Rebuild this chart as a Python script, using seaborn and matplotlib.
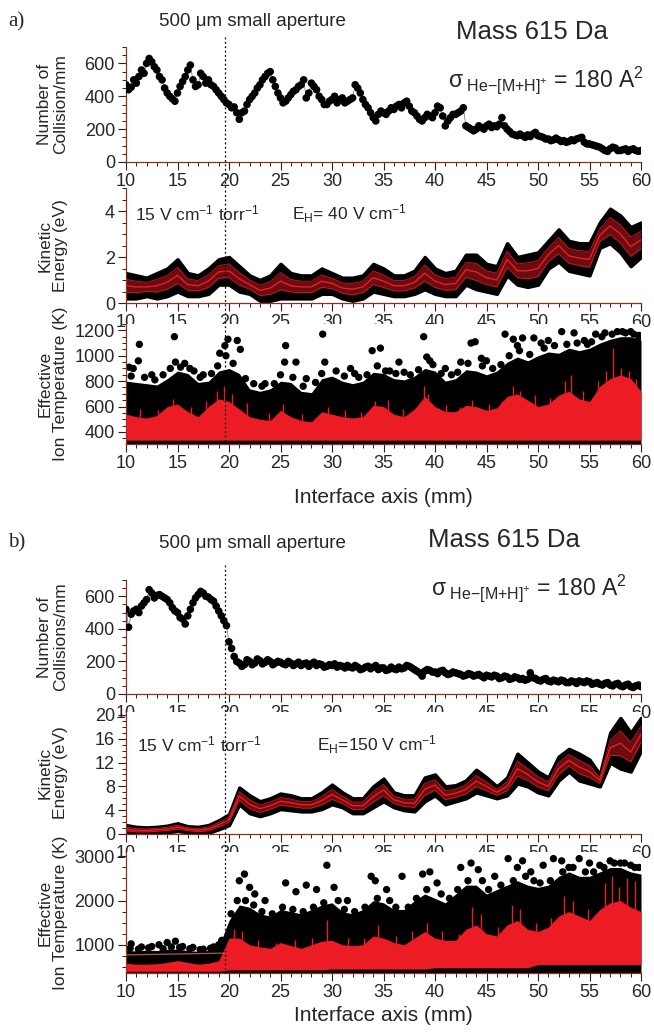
import numpy as np
import pandas as pd
import matplotlib
matplotlib.use('Agg')
import matplotlib.pyplot as plt
import seaborn as sns
from matplotlib.ticker import MultipleLocator
from matplotlib import transforms
from matplotlib.lines import Line2D

# ---------------- data ----------------
aperture_x = 19.6

# collisions per mm: points on the half-mm grid and the points between them
coll_x = np.arange(10, 60.01, 0.5)
coll_xq = np.arange(10.25, 60, 0.5)
coll_a = [470, 455, 480, 560, 600, 610, 560, 500, 420, 385,
          420, 490, 560, 500, 470, 520, 500, 460, 420, 380,
          350, 335, 260, 310, 380, 420, 470, 520, 550, 460,
          390, 370, 410, 440, 470, 390, 480, 440, 380, 350,
          380, 360, 390, 370, 390, 450, 380, 330, 270, 290,
          300, 310, 320, 350, 360, 340, 300, 260, 270, 280,
          300, 330, 220, 270, 290, 310, 220, 200, 200, 210,
          220, 210, 215, 270, 200, 170, 160, 160, 165, 170,
          160, 150, 140, 135, 135, 130, 125, 130, 145, 120,
          110, 100, 90, 70, 80, 85, 70, 80, 75, 70,
          70]
coll_a_q = [440, 500, 520, 540, 630, 580, 520, 450, 400, 370,
            460, 520, 590, 460, 540, 480, 470, 440, 400, 360,
            330, 300, 300, 350, 400, 450, 500, 540, 500, 420,
            360, 390, 430, 460, 500, 420, 460, 400, 350, 370,
            400, 380, 360, 380, 470, 420, 350, 300, 250, 310,
            290, 330, 340, 330, 370, 310, 280, 250, 290, 270,
            340, 280, 250, 290, 300, 330, 210, 190, 220, 200,
            230, 220, 230, 220, 185, 165, 170, 150, 155, 180,
            155, 140, 130, 145, 125, 120, 135, 140, 150, 110,
            105, 95, 80, 65, 90, 70, 75, 65, 80, 65]
coll_b = [520, 490, 520, 540, 580, 620, 605, 600, 580, 530,
          500, 460, 480, 560, 610, 620, 595, 570, 510, 450,
          320, 230, 190, 180, 200, 190, 205, 195, 200, 190,
          195, 180, 190, 185, 175, 190, 185, 175, 180, 170,
          175, 165, 170, 175, 160, 165, 155, 170, 165, 150,
          160, 150, 155, 165, 160, 170, 150, 130, 140, 145,
          135, 140, 130, 125, 130, 120, 115, 120, 115, 110,
          115, 105, 110, 100, 105, 95, 100, 95, 90, 100,
          85, 90, 80, 85, 75, 80, 70, 75, 80, 70,
          75, 65, 60, 65, 55, 60, 50, 55, 45, 50,
          45]
coll_b_q = [410, 510, 500, 560, 640, 590, 610, 590, 560, 510,
            470, 430, 520, 590, 630, 600, 580, 540, 480, 420,
            280, 200, 170, 210, 180, 215, 185, 210, 180, 200,
            185, 200, 175, 195, 185, 170, 195, 185, 165, 180,
            185, 175, 160, 165, 175, 150, 165, 155, 175, 160,
            145, 165, 150, 155, 175, 160, 140, 110, 150, 135,
            125, 145, 120, 135, 125, 110, 125, 110, 120, 100,
            110, 115, 95, 110, 90, 105, 90, 85, 130, 95,
            80, 95, 75, 80, 85, 70, 80, 65, 75, 80,
            60, 70, 55, 70, 50, 65, 45, 60, 40, 55]

# kinetic energy band (eV), every 1 mm
mm_x = np.arange(10, 61, 1)
ke_a_hi = [1.3, 1.2, 1.1, 1.3, 1.5, 1.9, 1.3, 1.2, 1.5, 1.9, 2.0, 1.6, 1.2, 1.0, 1.2,
           1.7, 1.3, 1.2, 1.2, 1.5, 1.3, 1.1, 1.1, 1.2, 1.7, 1.5, 1.2, 1.2, 1.4, 2.0,
           1.5, 1.3, 1.4, 2.1, 2.1, 1.7, 1.6, 2.6, 2.0, 2.1, 2.2, 2.7, 3.2, 2.7, 2.6,
           2.6, 3.5, 4.1, 3.8, 3.3, 3.5]
ke_a_lo = [0.2, 0.2, 0.3, 0.2, 0.3, 0.5, 0.3, 0.3, 0.4, 0.8, 0.8, 0.5, 0.4, 0.1, 0.1,
           0.2, 0.2, 0.2, 0.2, 0.4, 0.4, 0.2, 0.1, 0.2, 0.5, 0.4, 0.3, 0.3, 0.4, 0.6,
           0.4, 0.3, 0.3, 0.8, 0.6, 0.5, 0.4, 1.2, 0.8, 0.7, 0.8, 1.5, 1.8, 1.4, 1.3,
           1.2, 2.4, 2.6, 2.2, 1.6, 2.0]
ke_a_mid = [0.75, 0.7, 0.7, 0.75, 0.9, 1.2, 0.8, 0.75, 0.95, 1.35, 1.4, 1.05, 0.8, 0.55, 0.65,
            0.95, 0.75, 0.7, 0.7, 0.95, 0.85, 0.65, 0.6, 0.7, 1.1, 0.95, 0.75, 0.75, 0.9, 1.3,
            0.95, 0.8, 0.85, 1.45, 1.35, 1.1, 1.0, 1.9, 1.4, 1.4, 1.5, 2.1, 2.5, 2.05, 1.95,
            1.9, 2.95, 3.35, 3.0, 2.45, 2.75]
ke_b_hi = [1.5, 1.2, 1.1, 1.2, 1.4, 1.8, 1.3, 1.2, 1.5, 2.3, 3.3, 7.8, 6.5, 5.5, 6.0,
           6.8, 6.5, 6.0, 6.0, 7.0, 8.3, 7.0, 6.0, 6.0, 8.0, 9.3, 7.0, 6.5, 6.5, 9.5,
           10.0, 8.0, 8.2, 9.0, 10.8, 9.5, 8.0, 9.5, 13.5, 12.0, 10.5, 9.5, 13.0, 14.3, 13.5,
           12.5, 10.0, 17.0, 19.5, 17.0, 19.5]
ke_b_lo = [0.2, 0.1, 0.1, 0.2, 0.3, 0.5, 0.3, 0.1, 0.2, 0.8, 1.5, 5.0, 3.5, 3.0, 3.5,
           4.2, 4.0, 3.8, 3.8, 4.2, 5.0, 4.5, 3.5, 3.5, 4.5, 5.5, 4.5, 4.0, 3.8, 5.5,
           6.5, 5.0, 5.5, 6.0, 7.0, 6.5, 6.0, 6.5, 8.5, 8.0, 7.0, 6.5, 9.0, 10.5, 9.0,
           8.5, 8.0, 12.0, 11.0, 10.5, 14.0]
ke_b_mid = [0.8, 0.6, 0.6, 0.7, 0.85, 1.15, 0.8, 0.65, 0.85, 1.55, 2.4, 6.4, 5.0, 4.25, 4.75,
            5.5, 5.25, 4.9, 4.9, 5.6, 6.65, 5.75, 4.75, 4.75, 6.25, 7.4, 5.75, 5.25, 5.15, 7.5,
            8.25, 6.5, 6.85, 7.5, 8.9, 8.0, 7.0, 8.0, 11.0, 10.0, 8.75, 8.0, 11.0, 12.4, 11.25,
            10.5, 9.0, 14.5, 15.25, 13.75, 16.75]

# effective ion temperature (K), every 1 mm: top of the dense black cloud, red band
temp_a_black = [800, 790, 780, 770, 820, 880, 860, 790, 800, 880, 900, 860, 740, 720, 740,
                800, 790, 720, 710, 820, 840, 800, 780, 800, 870, 860, 820, 810, 840, 900,
                880, 800, 820, 890, 880, 850, 880, 950, 990, 960, 1000, 1030, 1020, 1060, 1040,
                1060, 1100, 1130, 1150, 1150, 1120]
temp_a_red = [540, 520, 510, 530, 600, 620, 560, 520, 600, 660, 640, 580, 520, 500, 490,
              570, 520, 490, 480, 560, 540, 520, 510, 520, 610, 600, 540, 520, 580, 680,
              600, 560, 560, 610, 600, 570, 590, 680, 700, 650, 600, 620, 690, 720, 660,
              640, 760, 820, 850, 820, 720]
temp_a_red_low = 335
temp_b_black = [870, 860, 880, 870, 900, 900, 870, 850, 870, 950, 1550, 1900, 1850, 1700, 1650,
                1800, 1750, 1700, 1800, 1900, 1950, 1750, 1700, 1800, 2000, 1950, 1800, 1800, 2000, 2150,
                2050, 1950, 2150, 2350, 2350, 2150, 2250, 2350, 2450, 2350, 2300, 2350, 2550, 2650, 2550,
                2550, 2650, 2750, 2750, 2650, 2600]
temp_b_red = [580, 560, 560, 570, 600, 640, 600, 560, 580, 640, 1150, 1150, 1000, 950, 920,
              1050, 980, 920, 1000, 1080, 1100, 1000, 980, 1000, 1200, 1150, 1050, 1000, 1150, 1300,
              1150, 1100, 1100, 1350, 1450, 1250, 1200, 1450, 1550, 1350, 1300, 1400, 1650, 1750, 1650,
              1550, 1800, 1950, 2000, 1850, 1750]
temp_b_red_low = [400, 400, 400, 400, 400, 400, 400, 400, 400, 400,
                  430, 430, 430, 430, 430, 430, 430, 430, 430, 430,
                  450, 450, 450, 450, 450, 450, 450, 450, 450, 450,
                  480, 480, 480, 480, 480, 480, 480, 480, 480, 480,
                  550, 550, 550, 550, 550, 550, 550, 550, 550, 550, 550]

# isolated hot points above the cloud
hot_a_x = [10.3, 10.7, 11.2, 11.3, 12.5, 14.7, 14.8, 15.7, 16.2, 17.5, 19.1, 19.6, 19.7, 19.9,
           20.8, 21.1, 23.5, 25.4, 25.5, 26.5, 27.5, 29.1, 29.3, 31.8, 32.2, 33.9, 34.7, 35.2,
           36.5, 37.0, 38.9, 39.2, 39.5, 41.0, 42.5, 43.5, 43.9, 44.5, 45.0, 46.8, 47.6, 48.0,
           48.5, 49.6, 50.3, 51.0, 52.3, 53.5, 54.5, 55.6, 56.5, 57.7, 58.5, 59.3, 59.7]
hot_a_y = [910, 900, 960, 1090, 850, 1150, 950, 940, 900, 850, 1020, 1080, 1000, 1130,
           1120, 1050, 780, 950, 1080, 950, 820, 1170, 950, 900, 860, 1040, 1060, 880,
           950, 870, 1150, 990, 960, 900, 950, 1100, 1110, 980, 960, 1170, 1130, 1080,
           1140, 1140, 1100, 1120, 1190, 1180, 1120, 1170, 1180, 1190, 1180, 1170, 1120]
# points on the ragged top edge of the cloud
edge_a_x = [10.5, 11.8, 12.8, 13.6, 14.3, 15.3, 16.6, 17.2, 18.3, 18.9, 20.4, 21.6, 22.4,
            23.2, 24.4, 25.0, 26.2, 27.2, 28.4, 29.0, 30.4, 31.2, 32.6, 33.4, 34.4, 35.6,
            36.2, 37.6, 38.4, 39.8, 40.6, 41.6, 42.2, 43.2, 44.6, 45.6, 46.4, 47.2, 48.2,
            49.2, 50.6, 51.6, 52.8, 53.8, 54.8, 55.2, 56.2, 57.2, 58.2, 59.0, 59.8]
edge_a_y = [840, 830, 810, 850, 900, 910, 880, 830, 860, 920, 940, 820, 780,
            760, 780, 850, 830, 760, 790, 860, 880, 840, 830, 850, 920, 880,
            860, 850, 890, 930, 860, 850, 870, 940, 920, 900, 930, 1000, 1040,
            1010, 1060, 1080, 1090, 1100, 1090, 1110, 1150, 1170, 1190, 1190, 1160]
hot_b_x = [10.5, 11.5, 12.5, 13.2, 14.0, 14.8, 15.5, 16.5, 17.5, 18.5, 19.3, 21.0, 21.5, 22.0,
           22.5, 23.5, 25.5, 26.5, 27.5, 28.5, 29.5, 30.2, 31.5, 33.8, 34.2, 35.3, 36.8, 38.8,
           39.5, 40.2, 42.5, 43.5, 44.2, 45.8, 47.1, 48.0, 48.5, 49.3, 50.5, 51.5, 52.3, 53.0,
           54.0, 55.0, 56.0, 57.0, 58.0, 59.0, 59.8]
hot_b_y = [1020, 950, 960, 1000, 1050, 1080, 960, 940, 900, 950, 1100, 2450, 2600, 2300,
           2150, 2000, 2400, 2200, 2350, 2250, 2800, 2300, 2000, 2550, 2450, 2250, 2550, 2600,
           2650, 2400, 2750, 2850, 2700, 2550, 2950, 2750, 2900, 2650, 2800, 2950, 2900, 2750,
           2950, 2850, 2800, 2900, 2850, 2800, 2750]
edge_b_x = [10.4, 11.2, 12.2, 13.6, 14.4, 15.2, 16.2, 17.2, 18.2, 19.0, 20.2, 20.8, 21.6,
            22.4, 23.2, 24.2, 25.2, 26.2, 27.2, 28.2, 29.2, 30.6, 31.2, 32.2, 33.2, 34.4,
            35.6, 36.2, 37.4, 38.2, 39.2, 40.6, 41.4, 42.2, 43.2, 44.6, 45.2, 46.4, 47.6,
            48.8, 49.6, 50.2, 51.2, 52.4, 53.4, 54.6, 55.4, 56.4, 57.4, 58.4, 59.4]
edge_b_y = [920, 900, 930, 910, 950, 940, 910, 890, 920, 1000, 1700, 2000, 2000,
            1900, 1750, 1700, 1850, 1800, 1750, 1850, 1950, 2000, 1800, 1750, 1850, 2050,
            2000, 1850, 1850, 2050, 2250, 2150, 2050, 2250, 2450, 2450, 2250, 2350, 2450,
            2550, 2450, 2400, 2450, 2650, 2750, 2650, 2650, 2750, 2850, 2850, 2750]
# red spikes rising out of the red band
spike_a_x = [11.4, 13.1, 14.6, 16.3, 17.8, 18.8, 19.5, 20.3, 21.7, 23.9, 25.2, 27.1, 29.6,
             31.3, 32.8, 34.2, 35.4, 36.9, 38.9, 39.3, 41.1, 42.4, 43.6, 45.2, 46.5, 47.6,
             48.3, 49.7, 51.2, 52.6, 53.2, 54.4, 55.8, 56.6, 57.3, 58.1, 58.8, 59.5]
spike_a_y = [580, 570, 660, 600, 640, 720, 760, 700, 630, 550, 620, 540, 600,
             570, 560, 640, 650, 580, 760, 700, 610, 600, 650, 620, 640, 760,
             720, 690, 670, 800, 850, 720, 800, 880, 1060, 900, 880, 820]
spike_b_x = [20.5, 21.3, 22.8, 24.6, 26.4, 28.1, 29.5, 31.6, 33.1, 34.5, 36.2, 37.8, 39.2,
             40.7, 42.3, 43.6, 44.5, 46.1, 47.5, 48.3, 49.8, 51.3, 52.5, 53.4, 54.9, 56.5,
             57.2, 57.9, 58.6, 59.4]
spike_b_y = [1350, 1300, 1100, 1050, 1100, 1150, 1550, 1150, 1150, 1450, 1200, 1300, 1500,
             1300, 1250, 1850, 1700, 1400, 1900, 1800, 1500, 1600, 2100, 2000, 1800, 2400,
             2550, 2300, 2500, 2450]
fit_b_x = [10, 19.6]
fit_b_y = [770, 810]

# ---------------- style ----------------
sns.set_theme(style='ticks')
plt.rcParams['font.family'] = ['Liberation Sans', 'DejaVu Sans']
plt.rcParams['mathtext.fontset'] = 'custom'
plt.rcParams['mathtext.rm'] = 'Liberation Sans'
plt.rcParams['mathtext.it'] = 'Liberation Sans:italic'
plt.rcParams['mathtext.sf'] = 'Liberation Sans'

RED = '#ec1c24'
SPINE = '#8a3020'
W, H = 654, 1033
L, R = 126, 641

fig = plt.figure(figsize=(W / 100, H / 100), dpi=100)


def make_ax(top, bottom):
    ax = fig.add_axes([L / W, 1 - bottom / H, (R - L) / W, (bottom - top) / H])
    sns.despine(ax=ax)
    for s in ('left', 'bottom'):
        ax.spines[s].set_color(SPINE)
        ax.spines[s].set_linewidth(0.9)
    ax.set_xlim(10, 60)
    ax.xaxis.set_major_locator(MultipleLocator(5))
    ax.xaxis.set_minor_locator(MultipleLocator(1))
    ax.tick_params(which='major', direction='out', length=5.5, width=0.8,
                   color='#222222', labelsize=13, pad=2.5)
    ax.tick_params(which='minor', direction='out', length=3, width=0.7, color='#222222')
    ax.set_xlabel('')
    return ax


def ylab(ax, text):
    ax.set_ylabel(text, fontsize=12.5, linespacing=1.05)
    ax.yaxis.set_label_coords(-0.113, 0.5)


def collisions(ax, y, yq):
    df = pd.concat([pd.DataFrame({'x': coll_x, 'n': y}),
                    pd.DataFrame({'x': coll_xq, 'n': yq})]).sort_values('x')
    sns.lineplot(data=df, x='x', y='n', ax=ax, color='#808080', lw=0.6, sort=False, estimator=None)
    sns.scatterplot(data=df, x='x', y='n', ax=ax, color='black', s=30, edgecolor='none', zorder=3)
    ax.set_ylim(0, 700)
    ax.yaxis.set_major_locator(MultipleLocator(200))
    ax.yaxis.set_minor_locator(MultipleLocator(50))
    ax.set_xlabel('')


def energy(ax, lo, mid, hi, top, major, minor):
    lo, mid, hi = np.array(lo), np.array(mid), np.array(hi)
    ax.fill_between(mm_x, lo, hi, color='black', lw=2.5, edgecolor='black')
    ax.fill_between(mm_x, (lo + mid) / 2, (mid + hi) / 2, color=RED, alpha=0.45, lw=0)
    sns.lineplot(x=mm_x, y=mid, ax=ax, color=RED, lw=1.0, sort=False, estimator=None)
    sns.lineplot(x=mm_x, y=(lo + mid) / 2, ax=ax, color=RED, lw=0.5, sort=False, estimator=None)
    sns.lineplot(x=mm_x, y=(mid + hi) / 2, ax=ax, color=RED, lw=0.5, sort=False, estimator=None)
    ax.set_ylim(0, top)
    ax.yaxis.set_major_locator(MultipleLocator(major))
    ax.yaxis.set_minor_locator(MultipleLocator(minor))


def temperature(ax, black, red, red_low, hx, hy, ex, ey, sx, sy, spike_base, ylim):
    ax.fill_between(mm_x, ylim[0], black, color='black', lw=0)
    sns.scatterplot(x=hx, y=hy, ax=ax, color='black', s=28, edgecolor='none')
    sns.scatterplot(x=ex, y=ey, ax=ax, color='black', s=28, edgecolor='none')
    ax.fill_between(mm_x, red_low, red, color=RED, lw=0, zorder=3)
    ax.vlines(sx, spike_base, sy, color=RED, lw=1.0, zorder=3)
    ax.set_ylim(*ylim)


# ---------------- panel a ----------------
a1 = make_ax(47, 162)
collisions(a1, coll_a, coll_a_q)
ylab(a1, 'Number of\nCollision/mm')

a2 = make_ax(188, 303)
energy(a2, ke_a_lo, ke_a_mid, ke_a_hi, 5.0, 2, 0.5)
ylab(a2, 'Kinetic\nEnergy (eV)')
a2.text(0.017, 0.78, '15 V cm$^{-1}$ torr$^{-1}$', transform=a2.transAxes, fontsize=12.5, va='center')
a2.text(0.323, 0.78, 'E$_{\\mathregular{H}}$= 40 V cm$^{-1}$', transform=a2.transAxes, fontsize=12.5, va='center')

a3 = make_ax(324, 444)
temperature(a3, temp_a_black, temp_a_red, temp_a_red_low, hot_a_x, hot_a_y, edge_a_x, edge_a_y,
            spike_a_x, spike_a_y, 450, (305, 1250))
a3.set_yticks([400, 600, 800, 1000, 1200])
a3.yaxis.set_minor_locator(MultipleLocator(50))
ylab(a3, 'Effective\nIon Temperature (K)')
a3.set_xlabel('Interface axis (mm)', fontsize=15)
a3.xaxis.set_label_coords(0.5, -0.37)

# ---------------- panel b ----------------
b1 = make_ax(580, 694)
collisions(b1, coll_b, coll_b_q)
ylab(b1, 'Number of\nCollisions/mm')

b2 = make_ax(712, 834)
energy(b2, ke_b_lo, ke_b_mid, ke_b_hi, 20.5, 4, 1)
ylab(b2, 'Kinetic\nEnergy (eV)')
b2.text(0.021, 0.73, '15 V cm$^{-1}$ torr$^{-1}$', transform=b2.transAxes, fontsize=12.5, va='center')
b2.text(0.37, 0.73, 'E$_{\\mathregular{H}}$=150 V cm$^{-1}$', transform=b2.transAxes, fontsize=12.5, va='center')

b3 = make_ax(852, 973)
temperature(b3, temp_b_black, temp_b_red, temp_b_red_low, hot_b_x, hot_b_y, edge_b_x, edge_b_y,
            spike_b_x, spike_b_y, 700, (360, 3100))
b3.plot(fit_b_x, fit_b_y, color='#b05a30', lw=0.9, zorder=4)
b3.yaxis.set_major_locator(MultipleLocator(1000))
b3.yaxis.set_minor_locator(MultipleLocator(250))
ylab(b3, 'Effective\nIon Temperature (K)')
b3.set_xlabel('Interface axis (mm)', fontsize=15)
b3.xaxis.set_label_coords(0.5, -0.27)

# aperture marker running through each stack
for ax_bottom, y_top, y_bot in ((a3, 37, 444), (b3, 565, 973)):
    tr = transforms.blended_transform_factory(ax_bottom.transData, fig.transFigure)
    fig.add_artist(Line2D([aperture_x, aperture_x], [1 - y_top / H, 1 - y_bot / H],
                          transform=tr, color='black', lw=0.9, ls=(0, (1.5, 2)), zorder=10))

# ---------------- header texts ----------------
sigma = r'$\mathregular{σ}_{\ \mathregular{He{-}[M{+}H]^{+}}}$ = 180 A$^{\mathregular{2}}$'
for label, y_lab, x_mass, y_mass, x_sig, y_sig in (('a)', 22, 456, 32, 448, 80),
                                                    ('b)', 543, 428, 540, 431, 588)):
    fig.text(8 / W, 1 - y_lab / H, label, family='Liberation Serif', fontsize=15, va='center')
    fig.text(252 / W, 1 - y_lab / H, '500 μm small aperture', fontsize=13.5,
             ha='center', va='center')
    fig.text(x_mass / W, 1 - y_mass / H, 'Mass 615 Da', fontsize=18.5, va='center')
    fig.text(x_sig / W, 1 - y_sig / H, sigma, fontsize=16.5, va='center')

fig.savefig('out.png', dpi=100)
